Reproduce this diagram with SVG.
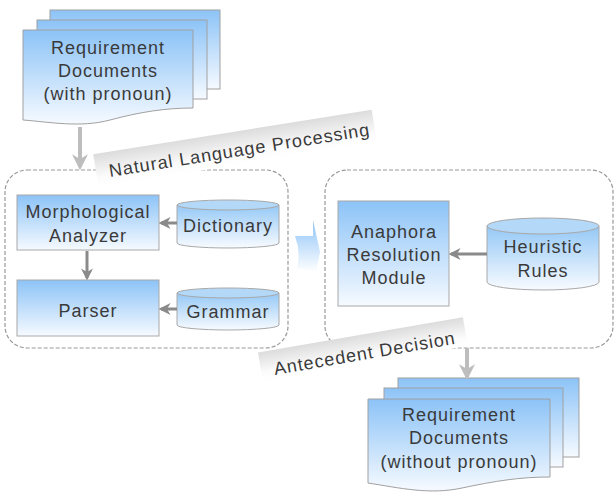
<svg xmlns="http://www.w3.org/2000/svg" width="614" height="494" viewBox="0 0 614 494">
<style>
text{font-family:"Liberation Sans",Arial,sans-serif;font-size:18px;letter-spacing:1px;fill:#3a3a3a;}
.c{text-anchor:middle;}
.box{fill:url(#gBlue);stroke:#a8a8a8;stroke-width:1;}
.sheet{fill:url(#gBlue);stroke:#a0a0a0;stroke-width:1;}
.cyl{fill:url(#gCyl);stroke:#a8a8a8;stroke-width:1;}
.cyltop{fill:#b3d8f8;stroke:#a8a8a8;stroke-width:1;}
.dash{fill:none;stroke:#999;stroke-width:1.2;stroke-dasharray:4 2;}
.dk{stroke:#8a8a8a;stroke-width:3;fill:none;marker-end:url(#ahDark);}
.lt{stroke:#bdbdbd;stroke-width:4;fill:none;marker-end:url(#ahLight);}
</style>
<defs>
<linearGradient id="gBlue" x1="0" y1="0" x2="0" y2="1">
<stop offset="0" stop-color="#8cc3f7"/>
<stop offset="1" stop-color="#f6faff"/>
</linearGradient>
<linearGradient id="gCyl" x1="0" y1="0" x2="0" y2="1">
<stop offset="0" stop-color="#94c8f6"/>
<stop offset="1" stop-color="#f8fbff"/>
</linearGradient>
<linearGradient id="gBand" x1="0" y1="0" x2="0" y2="1">
<stop offset="0" stop-color="#dcdcdc"/>
<stop offset="0.7" stop-color="#fbfbfb"/>
<stop offset="1" stop-color="#ffffff"/>
</linearGradient>
<linearGradient id="gArrow" x1="0" y1="0" x2="0" y2="1">
<stop offset="0" stop-color="#8cc3f7"/>
<stop offset="1" stop-color="#ffffff"/>
</linearGradient>
<marker id="ahDark" viewBox="0 0 10 10" refX="8" refY="5" markerWidth="4" markerHeight="4" orient="auto" markerUnits="strokeWidth">
<path d="M0,0 L10,5 L0,10 L3,5 Z" fill="#8a8a8a"/>
</marker>
<marker id="ahLight" viewBox="0 0 10 10" refX="8" refY="5" markerWidth="4" markerHeight="4" orient="auto" markerUnits="strokeWidth">
<path d="M0,0 L10,5 L0,10 L3,5 Z" fill="#bdbdbd"/>
</marker>
</defs>
<rect width="614" height="494" fill="#fff"/>

<!-- containers -->
<g id="nlp-group">
<rect class="dash" x="5" y="170" width="283" height="178" rx="22"/>
<g transform="translate(110,177) rotate(-9.1)">
<rect x="-13" y="-25" width="282" height="33" fill="url(#gBand)"/>
<text x="0" y="0">Natural Language Processing</text>
</g>
</g>
<g id="antecedent-group">
<rect class="dash" x="325" y="170" width="288" height="178" rx="22"/>
<g transform="translate(275,375) rotate(-9.8)">
<rect x="-13" y="-25" width="208" height="29" fill="url(#gBand)"/>
<text x="0" y="0">Antecedent Decision</text>
</g>
</g>

<!-- transition arrow -->
<g id="flow-arrow">
<path d="M295,236 L313,236 L313,220 L320,252 L316,272 L297,268 Q301,252 295,236 Z" fill="url(#gArrow)"/>
</g>

<!-- nodes -->
<g id="doc-in">
<rect class="sheet" x="50" y="10" width="170" height="79"/>
<rect class="sheet" x="37" y="20" width="170" height="79"/>
<path class="sheet" d="M23,30 H193 V108 C165,108 140,112 110,120 C80,128 50,122 23,120 Z"/>
<text class="c" x="108" y="54">Requirement</text>
<text class="c" x="108" y="77">Documents</text>
<text class="c" x="108" y="100">(with pronoun)</text>
</g>

<g id="morph">
<rect class="box" x="17" y="195" width="142" height="55"/>
<text class="c" x="88" y="218">Morphological</text>
<text class="c" x="88" y="242">Analyzer</text>
</g>

<g id="parser">
<rect class="box" x="17" y="280" width="142" height="56"/>
<text class="c" x="88" y="317">Parser</text>
</g>

<g id="dictionary">
<path class="cyl" d="M177,205 V243 A51,5 0 0 0 279,243 V205 Z"/>
<ellipse class="cyltop" cx="228" cy="205" rx="51" ry="5"/>
<text class="c" x="228" y="232">Dictionary</text>
</g>

<g id="grammar">
<path class="cyl" d="M177,293 V325 A51,5 0 0 0 279,325 V293 Z"/>
<ellipse class="cyltop" cx="228" cy="293" rx="51" ry="5"/>
<text class="c" x="228" y="318">Grammar</text>
</g>

<g id="anaphora">
<rect class="box" x="338" y="201" width="111" height="105"/>
<text class="c" x="394" y="238">Anaphora</text>
<text class="c" x="394" y="261">Resolution</text>
<text class="c" x="394" y="284">Module</text>
</g>

<g id="heuristic">
<path class="cyl" d="M487,226 V282 A56,8 0 0 0 599,282 V226 Z"/>
<ellipse class="cyltop" cx="543" cy="226" rx="56" ry="8"/>
<text class="c" x="543" y="253">Heuristic</text>
<text class="c" x="543" y="277">Rules</text>
</g>

<g id="doc-out">
<rect class="sheet" x="398" y="378" width="181" height="79"/>
<rect class="sheet" x="384" y="388" width="179" height="79"/>
<path class="sheet" d="M368,399 H550 V477 C520,477 495,481 462,488 C430,495 400,488 368,483 Z"/>
<text class="c" x="459" y="421">Requirement</text>
<text class="c" x="459" y="444">Documents</text>
<text class="c" x="459" y="468">(without pronoun)</text>
</g>

<!-- connectors -->
<g id="connectors">
<line class="lt" x1="80" y1="127" x2="80" y2="167"/>
<line class="dk" x1="87" y1="251" x2="87" y2="278"/>
<line class="dk" x1="177" y1="223" x2="161" y2="223"/>
<line class="dk" x1="177" y1="309" x2="161" y2="309"/>
<line class="dk" x1="487" y1="254" x2="451" y2="254"/>
<line class="lt" x1="467" y1="348" x2="467" y2="377"/>
</g>
</svg>
